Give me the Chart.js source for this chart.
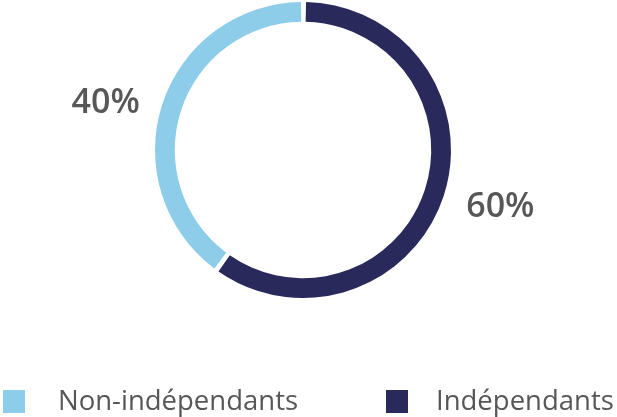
<!DOCTYPE html>
<html>
<head>
<meta charset="utf-8">
<script src="https://cdn.jsdelivr.net/npm/chart.js@4"></script>
<style>
  html, body { margin: 0; padding: 0; background: #fff; }
  #wrap { width: 617px; height: 417px; position: relative; }
</style>
</head>
<body>
<div id="wrap"><canvas id="statusChart"></canvas></div>
<script>
const categories = ["Non-indépendants", "Indépendants"];
const shares = [40, 60];
const colors = ["#8ecde9", "#29295b"];

const textColor = "#575757";
const fontFamily = "'Open Sans', sans-serif";

// percentage labels outside the ring + bottom legend
const outsideLabels = {
  id: "outsideLabels",
  afterDraw(chart) {
    const ctx = chart.ctx;
    const meta = chart.getDatasetMeta(0);
    ctx.save();
    ctx.fillStyle = textColor;
    ctx.textAlign = "center";
    ctx.textBaseline = "middle";
    ctx.font = "600 34px " + fontFamily;
    meta.data.forEach((arc, i) => {
      const mid = (arc.startAngle + arc.endAngle) / 2;
      const rx = arc.outerRadius + 61;
      const ry = arc.outerRadius + 22;
      ctx.fillText(shares[i] + "%", arc.x + Math.cos(mid) * rx, arc.y + Math.sin(mid) * ry + 5);
    });

    // legend
    const legendY = 402;
    const starts = [3, 386];
    ctx.textAlign = "left";
    ctx.font = "400 27.5px " + fontFamily;
    categories.forEach((name, i) => {
      ctx.fillStyle = colors[i];
      ctx.fillRect(starts[i], legendY - 12, 22, 23);
      ctx.fillStyle = textColor;
      ctx.fillText(name, starts[i] + (i === 0 ? 55 : 50), legendY);
    });
    ctx.restore();
  }
};

new Chart(document.getElementById("statusChart"), {
  type: "doughnut",
  data: {
    labels: categories,
    datasets: [
      {
        data: shares,
        backgroundColor: colors,
        borderWidth: 0,
        spacing: 3,
      },
    ],
  },
  options: {
    responsive: true,
    maintainAspectRatio: false,
    animation: false,
    rotation: 216,
    cutout: "86.5%",
    layout: { padding: { top: 2, bottom: 119, left: 0, right: 11 } },
    plugins: {
      legend: { display: false },
      tooltip: { enabled: false },
    },
  },
  plugins: [outsideLabels],
});
</script>
</body>
</html>
